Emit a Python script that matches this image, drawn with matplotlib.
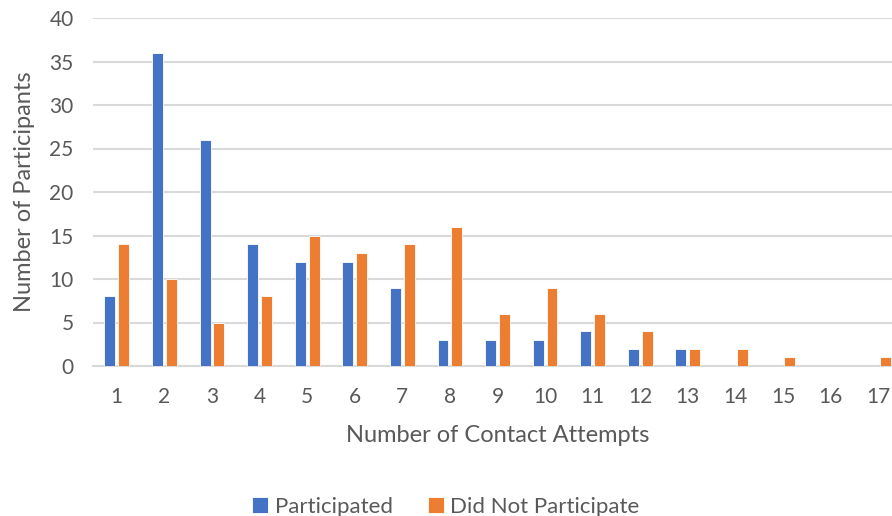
import matplotlib
matplotlib.use("Agg")
import matplotlib.pyplot as plt
import numpy as np

attempts = list(range(1, 18))
participated = [8, 36, 26, 14, 12, 12, 9, 3, 3, 3, 4, 2, 2, 0, 0, 0, 0]
did_not_participate = [14, 10, 5, 8, 15, 13, 14, 16, 6, 9, 6, 4, 2, 2, 1, 0, 1]
y_ticks = [0, 5, 10, 15, 20, 25, 30, 35, 40]

blue = "#4472C4"
orange = "#ED7D31"
text_color = "#595959"
grid_color = "#D9D9D9"

plt.rcParams["font.family"] = ["Lato", "DejaVu Sans"]

fig = plt.figure(figsize=(8.92, 5.16), dpi=100)
ax = fig.add_axes([93 / 892, 150 / 516, 809 / 892, 348 / 516])

x = np.arange(len(attempts))
w = 0.23
ax.bar(x - 0.145, participated, width=w, color=blue, edgecolor="white", linewidth=0.6,
       label="Participated", zorder=3)
ax.bar(x + 0.145, did_not_participate, width=w, color=orange, edgecolor="white", linewidth=0.6,
       label="Did Not Participate", zorder=3)

ax.set_xlim(-0.5, len(attempts) - 0.5)
ax.set_ylim(0, 40)
ax.set_yticks(y_ticks)
ax.set_xticks(x)
ax.set_xticklabels([str(a) for a in attempts])
ax.yaxis.grid(True, color=grid_color, linewidth=1.5, zorder=0)
ax.set_axisbelow(True)
for s in ["top", "right", "left"]:
    ax.spines[s].set_visible(False)
ax.spines["bottom"].set_color(grid_color)
ax.spines["bottom"].set_linewidth(1.5)
ax.tick_params(axis="both", length=0, labelsize=15, colors=text_color)
ax.tick_params(axis="x", pad=15)
ax.tick_params(axis="y", pad=14)

ax.set_xlabel("Number of Contact Attempts", fontsize=17, color=text_color, labelpad=13)
ax.set_ylabel("Number of Participants", fontsize=17, color=text_color, labelpad=10)

fig.legend(loc="lower center", bbox_to_anchor=(0.5, -0.04), ncol=2, frameon=False,
           fontsize=16, labelcolor=text_color, handlelength=0.7, handleheight=0.7,
           handletextpad=0.3, columnspacing=1.6)

fig.savefig("out.png", dpi=100)
